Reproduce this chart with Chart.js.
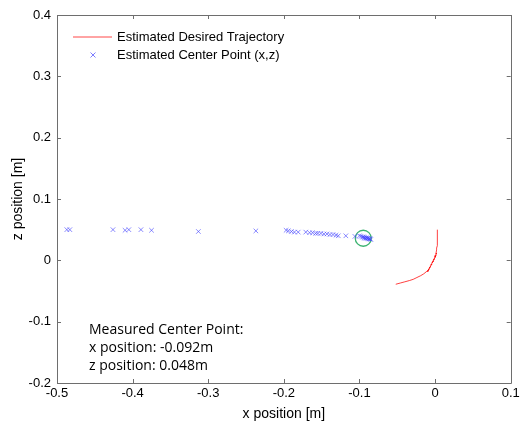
<!DOCTYPE html>
<html>
<head>
<meta charset="utf-8">
<script src="https://cdn.jsdelivr.net/npm/chart.js@4.4.0/dist/chart.umd.min.js"></script>
<style>
  html, body { margin: 0; padding: 0; background: #fff; }
  #wrap { width: 520px; height: 423px; }
</style>
</head>
<body>
<div id="wrap"><canvas id="chart" width="520" height="423"></canvas></div>
<script>
// red trajectory (x, z)
const trajX = [-0.052, -0.046, -0.040, -0.034, -0.029, -0.024, -0.019, -0.015, -0.011, -0.008, -0.010, -0.006, -0.008, -0.004, -0.006, -0.002, -0.004, -0.001, -0.002, 0.001, 0.000, 0.002, 0.001, 0.002, 0.002, 0.003, 0.003, 0.003, 0.003];
const trajZ = [-0.039, -0.037, -0.035, -0.033, -0.031, -0.028, -0.025, -0.022, -0.018, -0.014, -0.019, -0.010, -0.013, -0.006, -0.008, -0.001, -0.004, 0.003, 0.000, 0.008, 0.005, 0.012, 0.010, 0.017, 0.020, 0.024, 0.030, 0.040, 0.050];

// blue estimated centre points (x, z)
const centerX = [-0.487, -0.483, -0.426, -0.410, -0.405, -0.389, -0.375, -0.313, -0.237, -0.197, -0.194, -0.190, -0.186, -0.181, -0.171, -0.166, -0.162, -0.158, -0.155, -0.151, -0.147, -0.143, -0.139, -0.135, -0.131, -0.128, -0.118, -0.106, -0.100, -0.098, -0.096, -0.095, -0.094, -0.093, -0.092, -0.091, -0.090, -0.089, -0.088, -0.087, -0.086, -0.085];
const centerZ = [0.050, 0.050, 0.050, 0.049, 0.050, 0.050, 0.049, 0.047, 0.048, 0.049, 0.048, 0.047, 0.046, 0.046, 0.046, 0.045, 0.045, 0.044, 0.044, 0.044, 0.043, 0.043, 0.042, 0.042, 0.041, 0.040, 0.040, 0.039, 0.040, 0.039, 0.038, 0.038, 0.037, 0.037, 0.036, 0.037, 0.036, 0.036, 0.035, 0.035, 0.035, 0.034];

// measured centre (green circle)
const measuredX = [-0.095];
const measuredZ = [0.036];

const xTicks = [-0.5, -0.4, -0.3, -0.2, -0.1, 0, 0.1];
const yTicks = [-0.2, -0.1, 0, 0.1, 0.2, 0.3, 0.4];

const noteLines = ['Measured Center Point:', 'x position: -0.092m', 'z position: 0.048m'];
const legendLabels = ['Estimated Desired Trajectory', 'Estimated Center Point (x,z)'];

function pairs(xs, ys) {
    return xs.map((x, i) => ({ x: x, y: ys[i] }));
}

// box, inside ticks, legend and note text (matlab look)
const extras = {
    id: 'extras',
    afterDraw(chart) {
        const c = chart.ctx;
        const a = chart.chartArea;
        const sx = chart.scales.x, sy = chart.scales.y;
        c.save();
        c.strokeStyle = '#6e6e6e';
        c.lineWidth = 1;
        c.beginPath();
        c.rect(Math.round(a.left) + 0.5, Math.round(a.top) + 0.5, Math.round(a.right - a.left), Math.round(a.bottom - a.top));
        xTicks.forEach(v => {
            const px = Math.round(sx.getPixelForValue(v)) + 0.5;
            c.moveTo(px, a.bottom); c.lineTo(px, a.bottom - 4);
            c.moveTo(px, a.top); c.lineTo(px, a.top + 4);
        });
        yTicks.forEach(v => {
            const py = Math.round(sy.getPixelForValue(v)) + 0.5;
            c.moveTo(a.left, py); c.lineTo(a.left + 4, py);
            c.moveTo(a.right, py); c.lineTo(a.right - 4, py);
        });
        c.stroke();

        // legend
        c.font = '13px "Liberation Sans", Arial, sans-serif';
        c.textBaseline = 'middle';
        c.fillStyle = '#000';
        c.beginPath();
        c.strokeStyle = 'rgba(255,40,40,0.85)';
        c.lineWidth = 1;
        c.moveTo(73, 37); c.lineTo(112, 37);
        c.stroke();
        c.fillText(legendLabels[0], 117, 37);
        c.beginPath();
        c.strokeStyle = 'rgba(70,70,255,0.7)';
        c.moveTo(90.5, 52.5); c.lineTo(95.5, 57.5);
        c.moveTo(95.5, 52.5); c.lineTo(90.5, 57.5);
        c.stroke();
        c.fillText(legendLabels[1], 117, 55);

        // note
        c.font = '14px "Open Sans", "Noto Sans", sans-serif';
        noteLines.forEach((t, i) => c.fillText(t, 89, 330 + i * 18));
        c.restore();
    }
};

document.addEventListener('DOMContentLoaded', function () {
    const ctx = document.getElementById('chart').getContext('2d');
    const chart = new Chart(ctx, {
        type: 'scatter',
        data: {
            datasets: [{
                label: legendLabels[0],
                data: pairs(trajX, trajZ),
                showLine: true,
                borderColor: 'rgba(255,0,0,0.75)',
                borderWidth: 1,
                pointRadius: 0,
                tension: 0
            }, {
                label: legendLabels[1],
                data: pairs(centerX, centerZ),
                pointStyle: 'crossRot',
                pointRadius: 3.2,
                borderWidth: 1,
                borderColor: 'rgba(60,60,255,0.6)',
                backgroundColor: 'rgba(60,60,255,0.6)'
            }, {
                label: 'measured',
                data: pairs(measuredX, measuredZ),
                pointStyle: 'circle',
                pointRadius: 8,
                borderWidth: 1.3,
                borderColor: '#3cb371',
                backgroundColor: 'rgba(0,0,0,0)'
            }]
        },
        options: {
            responsive: false,
            animation: false,
            layout: { padding: { left: 0, right: 7, top: 15, bottom: 0 } },
            plugins: { legend: { display: false }, tooltip: { enabled: false } },
            scales: {
                x: {
                    type: 'linear',
                    min: -0.5, max: 0.1,
                    afterBuildTicks: s => { s.ticks = xTicks.map(v => ({ value: v })); },
                    afterFit: s => { s.height = 40; s.paddingLeft = 0; s.paddingRight = 0; },
                    grid: { display: false, drawTicks: false },
                    border: { display: false },
                    ticks: {
                        color: '#000', padding: 3,
                        font: { family: '"Liberation Sans", Arial', size: 13 },
                        callback: v => String(Math.round(v * 10) / 10)
                    },
                    title: {
                        display: true, text: 'x position [m]', color: '#000',
                        font: { family: '"Liberation Sans", Arial', size: 14 },
                        padding: { top: 4, bottom: 0 }
                    }
                },
                y: {
                    type: 'linear',
                    min: -0.2, max: 0.4,
                    afterBuildTicks: s => { s.ticks = yTicks.map(v => ({ value: v })); },
                    afterFit: s => { s.width = 57; s.paddingTop = 0; s.paddingBottom = 0; },
                    grid: { display: false, drawTicks: false },
                    border: { display: false },
                    ticks: {
                        color: '#000', padding: 6,
                        font: { family: '"Liberation Sans", Arial', size: 13 },
                        callback: v => String(Math.round(v * 10) / 10)
                    },
                    title: {
                        display: true, text: 'z position [m]', color: '#000',
                        font: { family: '"Liberation Sans", Arial', size: 14 },
                        padding: { top: 10, bottom: 0 }
                    }
                }
            }
        },
        plugins: [extras]
    });
});
</script>
</body>
</html>
